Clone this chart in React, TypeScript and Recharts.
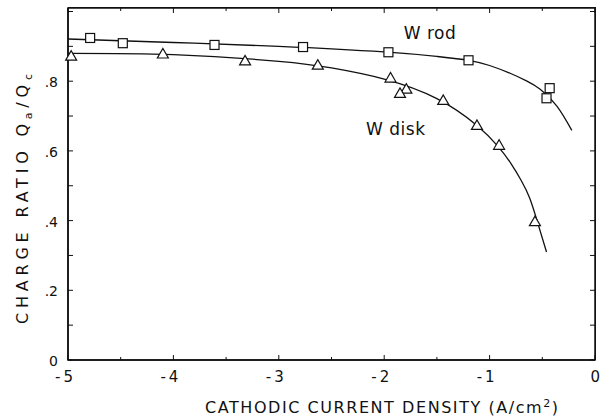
import { ComposedChart, Line, Scatter, XAxis, YAxis, ReferenceDot, ReferenceArea, Label } from 'recharts';

// measured points (squares = W rod, triangles = W disk)
const rodX = [-4.79, -4.48, -3.61, -2.77, -1.96, -1.2, -0.43, -0.46];
const rodY = [0.924, 0.909, 0.904, 0.898, 0.883, 0.86, 0.78, 0.751];
const diskX = [-4.97, -4.1, -3.32, -2.63, -1.94, -1.79, -1.85, -1.44, -1.12, -0.91, -0.57];
const diskY = [0.872, 0.878, 0.858, 0.846, 0.809, 0.777, 0.765, 0.745, 0.673, 0.616, 0.397];

// hand-drawn fit curves
const rodFitX = [-5, -4, -3, -2, -1.5, -1.2, -1.0, -0.8, -0.65, -0.52, -0.36, -0.22];
const rodFitY = [0.921, 0.911, 0.9, 0.884, 0.871, 0.86, 0.845, 0.822, 0.801, 0.777, 0.728, 0.659];
const diskFitX = [-5, -4, -3, -2.5, -2, -1.5, -1.12, -0.92, -0.8, -0.7, -0.62, -0.55, -0.46];
const diskFitY = [0.88, 0.876, 0.857, 0.838, 0.806, 0.75, 0.673, 0.613, 0.565, 0.515, 0.465, 0.4, 0.31];

const xTicks = [-5, -4.5, -4, -3.5, -3, -2.5, -2, -1.5, -1, -0.5, 0];
const yTicks = [0, 0.1, 0.2, 0.3, 0.4, 0.5, 0.6, 0.7, 0.8, 0.9, 1.0];

const X_DOMAIN: [number, number] = [-5, 0];
const Y_DOMAIN: [number, number] = [0, 1.01];

const zip = (xs: number[], ys: number[]) => xs.map((x, i) => ({ x, y: ys[i] }));
const rodPts = zip(rodX, rodY);
const diskPts = zip(diskX, diskY);
const rodFit = zip(rodFitX, rodFitY);
const diskFit = zip(diskFitX, diskFitY);

// tick positions along the top and right edges of the frame
const topTicks = xTicks.map((x) => ({ x, y: Y_DOMAIN[1] }));
const rightTicks = yTicks.map((y) => ({ x: X_DOMAIN[1], y }));

const W = 602;
const H = 419;
const MARGIN = { top: 8, right: 7, bottom: 29, left: 28 };
const Y_AXIS_W = 40;
const X_AXIS_H = 30;

const FONT = '"DejaVu Sans", sans-serif';
const INK = '#111';
const AXIS = { stroke: INK, strokeWidth: 1.5 };

const xLabel = (v: number) => (v < 0 ? `-\u2009${Math.abs(v)}` : String(v));
const yLabel = (v: number) => (v === 0 ? '0' : v.toFixed(1).replace(/^0/, ''));
const isMajorX = (v: number) => Number.isInteger(v);
const isMajorY = (v: number) => Math.abs(v * 5 - Math.round(v * 5)) < 1e-6 && v <= 0.81;

// tickSize/tickMargin are 0, so (x, y) is where the tick meets the axis line
function BottomTick(props: any) {
  const { x, y, payload } = props;
  const v = payload.value;
  return (
    <g>
      <line x1={x} x2={x} y1={y} y2={y - (isMajorX(v) ? 5 : 3)} stroke={INK} strokeWidth={1} />
      {isMajorX(v) && (
        <text x={x + 5} y={y + 22} textAnchor="end" fontFamily={FONT} fontSize={15} fill={INK}>
          {xLabel(v)}
        </text>
      )}
    </g>
  );
}

function LeftTick(props: any) {
  const { x, y, payload } = props;
  const v = payload.value;
  return (
    <g>
      <line x1={x} x2={x + 5} y1={y} y2={y} stroke={INK} strokeWidth={1} />
      {isMajorY(v) && (
        <text x={x - 10} y={y + 6} textAnchor="end" fontFamily={FONT} fontSize={14} fill={INK}>
          {yLabel(v)}
        </text>
      )}
    </g>
  );
}

function TopStub(props: any) {
  const { cx, cy, payload } = props;
  return <line x1={cx} x2={cx} y1={cy} y2={cy + (isMajorX(payload.x) ? 5 : 3)} stroke={INK} strokeWidth={1} />;
}

function RightStub(props: any) {
  const { cx, cy } = props;
  return <line x1={cx} x2={cx - 5} y1={cy} y2={cy} stroke={INK} strokeWidth={1} />;
}

function SquareMark(props: any) {
  const { cx, cy } = props;
  return <rect x={cx - 4.5} y={cy - 4.5} width={9} height={9} fill="#fff" stroke={INK} strokeWidth={1.2} />;
}

function TriangleMark(props: any) {
  const { cx, cy } = props;
  const pts = `${cx - 5.5},${cy + 4} ${cx + 5.5},${cy + 4} ${cx},${cy - 5.5}`;
  return <polygon points={pts} fill="#fff" stroke={INK} strokeWidth={1.2} />;
}

export default function App() {
  const plotLeft = MARGIN.left + Y_AXIS_W;
  const plotW = W - MARGIN.right - plotLeft;
  const plotH = H - MARGIN.bottom - X_AXIS_H - MARGIN.top;
  return (
    <div style={{ position: 'absolute', left: 0, top: 0, width: W, height: H, background: '#fff' }}>
      <ComposedChart width={W} height={H} margin={MARGIN}>
        <XAxis
          type="number"
          dataKey="x"
          domain={X_DOMAIN}
          ticks={xTicks}
          interval={0}
          height={X_AXIS_H}
          tickSize={0}
          tickMargin={0}
          tickLine={false}
          tick={<BottomTick />}
          axisLine={AXIS}
        >
          <Label
            content={() => (
              <text x={205} y={413} textLength={353} lengthAdjust="spacing" fontFamily={FONT} fontSize={16} fill={INK}>
                CATHODIC CURRENT DENSITY (A/cm
                <tspan dy={-6} fontSize={11}>2</tspan>
                <tspan dy={6}>)</tspan>
              </text>
            )}
          />
        </XAxis>
        <YAxis
          type="number"
          dataKey="y"
          domain={Y_DOMAIN}
          ticks={yTicks}
          interval={0}
          width={Y_AXIS_W}
          tickSize={0}
          tickMargin={0}
          tickLine={false}
          tick={<LeftTick />}
          axisLine={AXIS}
        >
          <Label
            content={() => (
              <text
                transform="translate(28,324) rotate(-90)"
                textLength={250}
                lengthAdjust="spacing"
                fontFamily={FONT}
                fontSize={16}
                fill={INK}
              >
                CHARGE RATIO  Q
                <tspan dy={4} fontSize={11}>a</tspan>
                <tspan dy={-4}>/Q</tspan>
                <tspan dy={4} fontSize={11}>c</tspan>
              </text>
            )}
          />
        </YAxis>

        <ReferenceArea
          x1={X_DOMAIN[0]}
          x2={X_DOMAIN[1]}
          y1={Y_DOMAIN[0]}
          y2={Y_DOMAIN[1]}
          fill="none"
          fillOpacity={0}
          stroke={INK}
          strokeWidth={1.5}
        />
        <Scatter data={topTicks} dataKey="y" shape={<TopStub />} isAnimationActive={false} />
        <Scatter data={rightTicks} dataKey="y" shape={<RightStub />} isAnimationActive={false} />

        <Line data={rodFit} dataKey="y" type="natural" stroke={INK} strokeWidth={1.3} dot={false} isAnimationActive={false} />
        <Line data={diskFit} dataKey="y" type="natural" stroke={INK} strokeWidth={1.3} dot={false} isAnimationActive={false} />
        <Scatter data={rodPts} dataKey="y" shape={<SquareMark />} isAnimationActive={false} />
        <Scatter data={diskPts} dataKey="y" shape={<TriangleMark />} isAnimationActive={false} />

        <ReferenceDot x={-1.565} y={0.938} r={0} fill="none" stroke="none">
          <Label value="W rod" position="center" fontFamily={FONT} fontSize={17} letterSpacing={0.5} fill={INK} />
        </ReferenceDot>
        <ReferenceDot x={-1.89} y={0.662} r={0} fill="none" stroke="none">
          <Label value="W disk" position="center" fontFamily={FONT} fontSize={17} letterSpacing={0.5} fill={INK} />
        </ReferenceDot>
      </ComposedChart>
      {/* top and right edges of the frame */}
      <div
        style={{
          position: 'absolute',
          left: plotLeft,
          top: MARGIN.top - 1,
          width: plotW + 1,
          height: plotH + 1,
          borderTop: `1.5px solid ${INK}`,
          borderRight: `1.5px solid ${INK}`,
          boxSizing: 'border-box',
          pointerEvents: 'none',
        }}
      />
    </div>
  );
}
